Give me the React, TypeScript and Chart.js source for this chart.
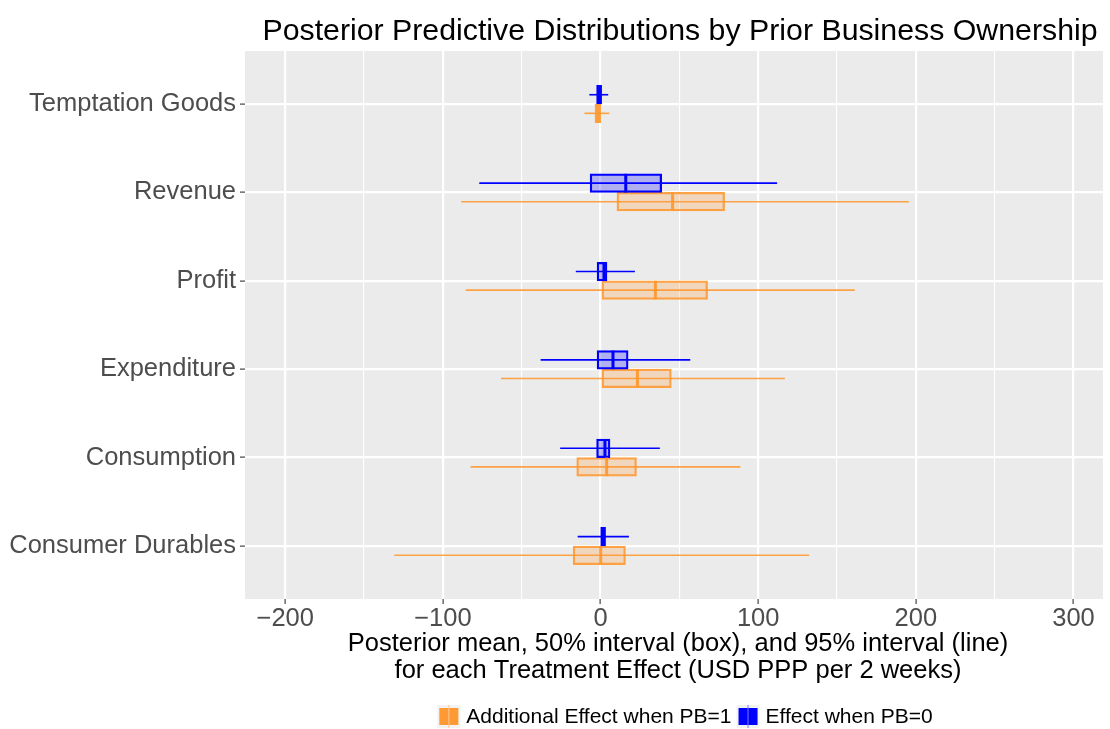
import React, { useEffect, useRef } from "react";
import { Chart, registerables } from "chart.js";

Chart.register(...registerables);

const categories = [
  "Temptation Goods",
  "Revenue",
  "Profit",
  "Expenditure",
  "Consumption",
  "Consumer Durables",
];

// Effect when PB=0 (blue)
const pb0Low95 = [-7.1, -76.9, -15.7, -38.0, -25.6, -14.5];
const pb0Q25 = [-2.5, -6.6, -2.2, -2.2, -2.5, 0.1];
const pb0Mean = [-0.9, 16.0, 2.2, 7.9, 2.8, 1.8];
const pb0Q75 = [0.7, 38.8, 4.1, 17.5, 6.0, 3.2];
const pb0High95 = [4.9, 112.0, 21.8, 56.9, 37.6, 18.0];

// Additional Effect when PB=1 (orange)
const pb1Low95 = [-10.2, -88.4, -85.5, -63.1, -82.4, -130.8];
const pb1Q25 = [-3.5, 10.4, 0.9, 0.9, -15.1, -17.4];
const pb1Mean = [-1.7, 45.7, 34.8, 23.4, 3.9, 0.1];
const pb1Q75 = [0.1, 78.7, 67.9, 44.9, 22.8, 15.8];
const pb1High95 = [5.6, 195.6, 161.3, 116.9, 88.7, 132.3];

const xMajorTicks = [-200, -100, 0, 100, 200, 300];
const seriesLabels = ["Additional Effect when PB=1", "Effect when PB=0"];
const chartTitle = "Posterior Predictive Distributions by Prior Business Ownership";
const xAxisTitle = [
  "Posterior mean, 50% interval (box), and 95% interval (line)",
  "for each Treatment Effect (USD PPP per 2 weeks)",
];

const FONT = "'Liberation Sans', Arial, Helvetica, sans-serif";
const BLUE = "#0000FF";
const ORANGE = "rgb(255,153,51)";

const series = [
  { lo: pb0Low95, mean: pb0Mean, hi: pb0High95, line: BLUE, median: BLUE },
  { lo: pb1Low95, mean: pb1Mean, hi: pb1High95, line: "rgba(255,153,51,0.9)", median: "rgba(255,153,51,0.95)" },
];

const intervalPlugin = {
  id: "intervals",
  beforeDraw(chart: any) {
    const { ctx, chartArea } = chart;
    ctx.save();
    ctx.fillStyle = "#EBEBEB";
    ctx.fillRect(chartArea.left, chartArea.top, chartArea.right - chartArea.left, chartArea.bottom - chartArea.top);
    ctx.restore();
  },
  beforeDatasetsDraw(chart: any) {
    const { ctx } = chart;
    const xs = chart.scales.x;
    ctx.save();
    series.forEach((s, d) => {
      const meta = chart.getDatasetMeta(d);
      meta.data.forEach((el: any, i: number) => {
        ctx.strokeStyle = s.line;
        ctx.lineWidth = 1.6;
        ctx.beginPath();
        ctx.moveTo(xs.getPixelForValue(s.lo[i]), el.y);
        ctx.lineTo(xs.getPixelForValue(s.hi[i]), el.y);
        ctx.stroke();
      });
    });
    ctx.restore();
  },
  afterDatasetsDraw(chart: any) {
    const { ctx } = chart;
    const xs = chart.scales.x;
    ctx.save();
    series.forEach((s, d) => {
      const meta = chart.getDatasetMeta(d);
      meta.data.forEach((el: any, i: number) => {
        const x = xs.getPixelForValue(s.mean[i]);
        ctx.strokeStyle = s.median;
        ctx.lineWidth = 3;
        ctx.beginPath();
        ctx.moveTo(x, el.y - el.height / 2);
        ctx.lineTo(x, el.y + el.height / 2);
        ctx.stroke();
      });
    });
    ctx.restore();
  },
  afterDraw(chart: any) {
    const { ctx, chartArea } = chart;
    ctx.save();
    // title
    ctx.fillStyle = "#000000";
    ctx.font = `30.3px ${FONT}`;
    ctx.textAlign = "center";
    ctx.textBaseline = "alphabetic";
    ctx.fillText(chartTitle, 680, 40);
    // axis title
    const cx = 678;
    ctx.font = `25.5px ${FONT}`;
    ctx.textBaseline = "middle";
    ctx.fillText(xAxisTitle[0], cx, 644);
    ctx.fillText(xAxisTitle[1], cx, 671);
    // legend
    ctx.font = `21px ${FONT}`;
    ctx.textAlign = "left";
    const legendColors = [ORANGE, BLUE];
    const keyLine = ["rgba(255,200,150,1)", "rgba(120,120,255,1)"];
    const w0 = ctx.measureText(seriesLabels[0]).width;
    const w1 = ctx.measureText(seriesLabels[1]).width;
    const keySize = 23;
    const gapKeyText = 6;
    const gapItems = 5;
    const total = keySize + gapKeyText + w0 + gapItems + keySize + gapKeyText + w1;
    let x = 685 - total / 2;
    const ky = 705;
    [0, 1].forEach((k) => {
      ctx.fillStyle = "#F2F2F2";
      ctx.fillRect(x, ky, keySize, keySize);
      ctx.fillStyle = legendColors[k];
      ctx.fillRect(x + 2, ky + 3, keySize - 4, keySize - 6);
      ctx.strokeStyle = keyLine[k];
      ctx.lineWidth = 1;
      ctx.beginPath();
      ctx.moveTo(x + keySize / 2, ky);
      ctx.lineTo(x + keySize / 2, ky + keySize);
      ctx.stroke();
      ctx.fillStyle = "#000000";
      ctx.textBaseline = "middle";
      ctx.fillText(seriesLabels[k], x + keySize + gapKeyText, ky + keySize / 2 + 1);
      x += keySize + gapKeyText + (k === 0 ? w0 : w1) + gapItems;
    });
    ctx.restore();
  },
};

export default function App() {
  const ref = useRef<HTMLCanvasElement | null>(null);
  useEffect(() => {
    if (!ref.current) return;
    const chart = new Chart(ref.current, {
      type: "bar",
      data: {
        datasets: [
          {
            label: seriesLabels[1],
            data: categories.map((_, i) => ({ x: [pb0Q25[i], pb0Q75[i]], y: i })) as any,
            backgroundColor: "rgba(0,0,255,0.25)",
            borderColor: BLUE,
            borderWidth: 1.6,
            borderSkipped: false,
            barThickness: 18.6,
          },
          {
            label: seriesLabels[0],
            data: categories.map((_, i) => ({ x: [pb1Q25[i], pb1Q75[i]], y: i })) as any,
            backgroundColor: "rgba(255,153,51,0.25)",
            borderColor: "rgba(255,153,51,0.9)",
            borderWidth: 1.6,
            borderSkipped: false,
            barThickness: 18.6,
          },
        ],
      },
      options: {
        indexAxis: "y",
        animation: false,
        responsive: false,
        devicePixelRatio: 1,
        layout: { padding: { top: 51, right: 7, left: 0, bottom: 0 } },
        plugins: {
          legend: { display: false },
          title: { display: false },
          tooltip: { enabled: false },
        },
        scales: {
          x: {
            type: "linear",
            min: -225.5,
            max: 318.7,
            offset: false,
            afterFit: (s: any) => {
              s.height = 130;
            },
            border: { display: false },
            grid: {
              offset: false,
              color: "#FFFFFF",
              lineWidth: (c: any) => (xMajorTicks.includes(c.tick?.value) ? 2.2 : 1.1),
              tickColor: (c: any) => (xMajorTicks.includes(c.tick?.value) ? "#333333" : "rgba(0,0,0,0)"),
              tickLength: 5,
              tickWidth: 1.1,
              drawTicks: true,
            },
            ticks: {
              stepSize: 50,
              includeBounds: false,
              autoSkip: false,
              maxRotation: 0,
              padding: 0,
              color: "#4D4D4D",
              font: { family: FONT, size: 25.5 },
              callback: (v: any) => {
                const n = Number(v);
                if (!xMajorTicks.includes(n)) return "";
                return n < 0 ? "\u2212" + Math.abs(n) : String(n);
              },
            },
          },
          y: {
            type: "linear",
            min: -0.6,
            max: 5.6,
            reverse: true,
            offset: false,
            afterFit: (s: any) => {
              s.width = 245;
            },
            border: { display: false },
            grid: {
              offset: false,
              color: "#FFFFFF",
              lineWidth: 2.2,
              tickColor: "#333333",
              tickLength: 5,
              tickWidth: 1.1,
            },
            ticks: {
              stepSize: 1,
              includeBounds: false,
              autoSkip: false,
              padding: 4,
              color: "#4D4D4D",
              font: { family: FONT, size: 25.5 },
              callback: (v: any) => {
                const n = Number(v);
                return Number.isInteger(n) && categories[n] ? categories[n] : "";
              },
            },
          },
        },
      },
      plugins: [intervalPlugin],
    });
    return () => chart.destroy();
  }, []);
  return (
    <div style={{ position: "absolute", left: 0, top: 0, width: 1110, height: 729 }}>
      <canvas ref={ref} width={1110} height={729} style={{ width: 1110, height: 729, display: "block" }} />
    </div>
  );
}
